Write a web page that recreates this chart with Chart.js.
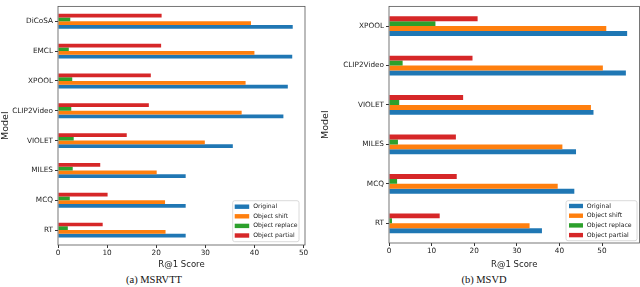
<!DOCTYPE html>
<html>
<head>
<meta charset="utf-8">
<script src="https://cdn.jsdelivr.net/npm/chart.js@4.4.0/dist/chart.umd.min.js"></script>
<style>
  html, body { margin: 0; padding: 0; background: #fff; width: 640px; height: 287px; overflow: hidden; }
  canvas { position: absolute; top: 0; }
  .cap { position: absolute; font-family: "Liberation Serif", "DejaVu Serif", serif; font-size: 10.5px; color: #111; white-space: nowrap; transform: translateX(-50%); line-height: 1; }
</style>
</head>
<body>
<canvas id="c1" width="315" height="270" style="left:0px;"></canvas>
<canvas id="c2" width="320" height="270" style="left:320px;"></canvas>
<div class="cap" style="left:154px; top:275px;">(a) MSRVTT</div>
<div class="cap" style="left:484px; top:275px;">(b) MSVD</div>
<script>
// ---- data ----
const seriesNames = ['Original', 'Object shift', 'Object replace', 'Object partial'];
const seriesColors = ['#1f77b4', '#ff7f0e', '#2ca02c', '#d62728'];
const xTicks = [0, 10, 20, 30, 40, 50];

const msrvttModels   = ['DiCoSA', 'EMCL', 'XPOOL', 'CLIP2Video', 'VIOLET', 'MILES', 'MCQ', 'RT'];
const msrvttOriginal = [47.8, 47.7, 46.8, 45.9, 35.6, 26.0, 26.0, 26.0];
const msrvttShift    = [39.3, 40.0, 38.2, 37.4, 29.9, 20.1, 21.8, 21.9];
const msrvttReplace  = [2.5, 2.2, 2.9, 2.7, 3.2, 3.0, 2.4, 2.0];
const msrvttPartial  = [21.1, 21.0, 18.9, 18.5, 14.0, 8.6, 10.1, 9.1];

const msvdModels   = ['XPOOL', 'CLIP2Video', 'VIOLET', 'MILES', 'MCQ', 'RT'];
const msvdOriginal = [55.9, 55.6, 48.0, 43.9, 43.5, 35.9];
const msvdShift    = [51.0, 50.2, 47.4, 40.7, 39.6, 33.0];
const msvdReplace  = [10.9, 3.2, 2.4, 2.1, 1.9, 0.7];
const msvdPartial  = [20.8, 19.6, 17.4, 15.7, 15.9, 11.9];

const FONT = 'DejaVu Sans';

const framePlugin = {
  id: 'frameLegend',
  afterDatasetsDraw(chart, args, opts) {
    const ctx = chart.ctx, a = chart.chartArea;
    ctx.save();
    ctx.strokeStyle = '#555';
    ctx.lineWidth = 0.8;
    ctx.strokeRect(a.left, a.top, a.right - a.left, a.bottom - a.top);
    // legend (in order of seriesNames)
    const lg = opts.legend;
    const x = lg.x, y = lg.y, w = lg.w, h = lg.h, r = 2;
    ctx.beginPath();
    ctx.moveTo(x + r, y);
    ctx.arcTo(x + w, y, x + w, y + h, r);
    ctx.arcTo(x + w, y + h, x, y + h, r);
    ctx.arcTo(x, y + h, x, y, r);
    ctx.arcTo(x, y, x + w, y, r);
    ctx.closePath();
    ctx.fillStyle = 'rgba(255,255,255,0.85)';
    ctx.fill();
    ctx.strokeStyle = '#d0d0d0';
    ctx.lineWidth = 0.8;
    ctx.stroke();
    ctx.font = lg.fontSize + 'px "' + FONT + '"';
    ctx.textBaseline = 'middle';
    ctx.textAlign = 'left';
    seriesNames.forEach((name, i) => {
      const cy = y + lg.first + i * lg.step;
      ctx.fillStyle = seriesColors[i];
      ctx.fillRect(x + lg.sw0, cy - 2.2, lg.sw, 4.4);
      ctx.fillStyle = '#222';
      ctx.fillText(name, x + lg.tx, cy);
    });
    ctx.restore();
  }
};

function makeChart(id, labels, orig, shift, repl, part, xmax, yWidth, xHeight, pad, legend) {
  const vals = [orig, shift, repl, part];
  // top-to-bottom inside each group: partial, replace, shift, original
  const order = [3, 2, 1, 0];
  const datasets = order.map(i => ({
    label: seriesNames[i],
    data: vals[i],
    backgroundColor: seriesColors[i],
    borderWidth: 0,
    categoryPercentage: 0.5,
    barPercentage: 1.0
  }));
  return new Chart(document.getElementById(id), {
    type: 'bar',
    data: { labels: labels, datasets: datasets },
    plugins: [framePlugin],
    options: {
      indexAxis: 'y',
      responsive: false,
      devicePixelRatio: 1,
      animation: false,
      layout: { padding: pad },
      plugins: {
        legend: { display: false },
        tooltip: { enabled: false },
        frameLegend: { legend: legend }
      },
      scales: {
        x: {
          type: 'linear',
          min: 0,
          max: xmax,
          afterBuildTicks: s => { s.ticks = xTicks.map(v => ({ value: v })); },
          afterFit: s => { s.height = xHeight; },
          grid: { drawOnChartArea: false, drawTicks: true, tickLength: 3, color: '#333', offset: false },
          border: { display: false },
          ticks: { font: { family: FONT, size: 7.3 }, color: '#222', padding: 1, maxRotation: 0 },
          title: { display: true, text: 'R@1 Score', font: { family: FONT, size: 8.5 }, color: '#222', padding: { top: 1, bottom: 0 } }
        },
        y: {
          type: 'category',
          offset: true,
          afterFit: s => { s.width = yWidth; },
          grid: { drawOnChartArea: false, drawTicks: true, tickLength: 3, color: '#333', offset: false },
          border: { display: false },
          ticks: { font: { family: FONT, size: 7.3 }, color: '#222', padding: 2 },
          title: { display: true, text: 'Model', font: { family: FONT, size: 9.5 }, color: '#222', padding: { top: 0, bottom: 0 } }
        }
      }
    }
  });
}

makeChart('c1', msrvttModels, msrvttOriginal, msrvttShift, msrvttReplace, msrvttPartial,
  50.3, 58, 25, { top: 3, right: 10, left: 0, bottom: 0 },
  { x: 232.7, y: 200.7, w: 66.3, h: 41, first: 6, step: 9.6, sw0: 2, sw: 14.5, tx: 20.6, fontSize: 6.1 });

makeChart('c2', msvdModels, msvdOriginal, msvdShift, msvdReplace, msvdPartial,
  58.8, 69, 27, { top: 1, right: 0.5, left: 0, bottom: 0 },
  { x: 246, y: 200.7, w: 71, h: 40, first: 5.3, step: 9.7, sw0: 3, sw: 14, tx: 20.7, fontSize: 6.2 });
</script>
</body>
</html>
